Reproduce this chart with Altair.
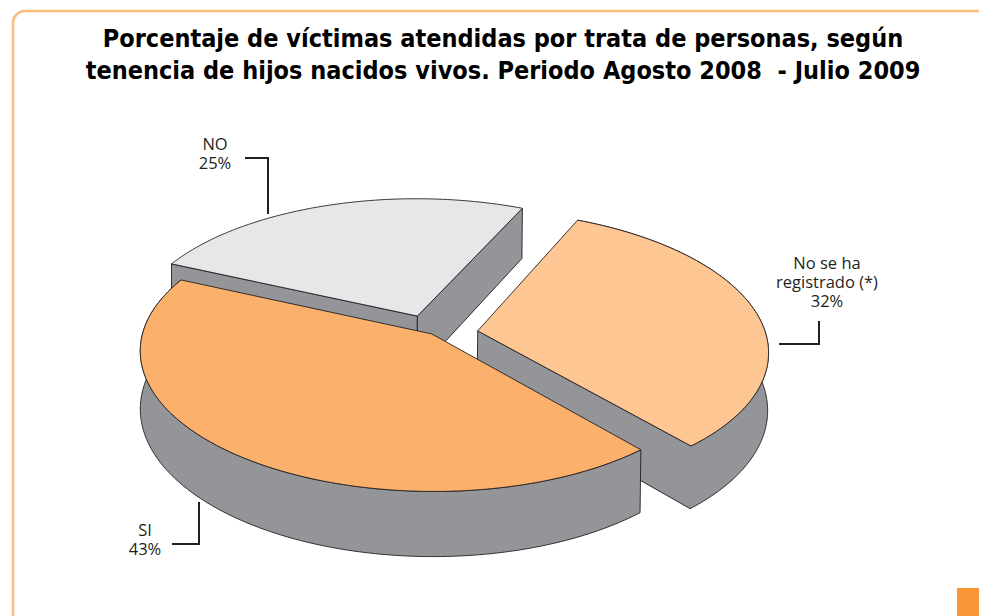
import numpy as np
import pandas as pd
import altair as alt
alt.data_transformers.disable_max_rows()
categories=["No se ha registrado (*)","SI","NO"]
shares=[.32,.43,.25]
# perspective camera of the 3D pie and the explode of each slice
cam=[169.13507, 241.14323, 431.76909, -84.80266, 39.3128, 333.93371, 0.11935, -0.05231, 0.25788, 57.50832, 0.00151]
explode=[0.16123, 0.0, 0.14145]
cum=np.cumsum([0]+shares)*2*np.pi
mid=(cum[:-1]+cum[1:])/2
def proj(X,Y,Z):
    a,b,c,d,e,f,g,h,zx,zy,zw=cam
    w=g*X+h*Y+1+zw*Z
    return np.stack([(a*X+b*Y+c+zx*Z)/w,(d*X+e*Y+f+zy*Z)/w],-1)
def pt(i,th,r,Z):
    e=explode[i]
    return proj(r*np.cos(th)+e*np.cos(mid[i]),r*np.sin(th)+e*np.sin(mid[i]),Z)
W,H=971,608
xs=alt.Scale(domain=[8,979],range=[0,W])
ys=alt.Scale(domain=[8,616],range=[0,H])
def enc(c):
    return c.encode(x=alt.X("x:Q",scale=xs,axis=None),y=alt.Y("y:Q",scale=ys,axis=None))
def poly(pts,fill):
    df=pd.DataFrame({"x":pts[:,0],"y":pts[:,1],"o":np.arange(len(pts))})
    return enc(alt.Chart(df).mark_line(fill=fill,stroke="#231f20",strokeWidth=0.9,strokeJoin="miter")).encode(order="o:Q")
def arc(i,z):
    return pt(i,np.linspace(cum[i],cum[i+1],160),1,z)
def apex(i,z):
    return pt(i,np.array([0.0]),0,z)
def top(i,fill):
    a=apex(i,0)
    return poly(np.vstack([a,arc(i,0),a]),fill)
def rim(i):
    t=arc(i,0);b=arc(i,1)
    return poly(np.vstack([t,b[::-1],t[:1]]),"#939598")
def inner(i,end):
    t=arc(i,0)[end][None];b=arc(i,1)[end][None]
    return poly(np.vstack([apex(i,0),t,b,apex(i,1),apex(i,0)]),"#939598")
def rim_and_inner(i):
    t=arc(i,0);b=arc(i,1)
    return poly(np.vstack([t,apex(i,0),apex(i,1),b[::-1],t[:1]]),"#939598")
layers=[]
frame=pd.DataFrame({"x":[13],"x2":[1300],"y":[11],"y2":[1000]})
layers.append(enc(alt.Chart(frame).mark_rect(fill="white",stroke="#fdbb7e",strokeWidth=2.6,cornerRadius=12,clip=True)).encode(x2="x2:Q",y2="y2:Q"))
sq=pd.DataFrame({"x":[957],"x2":[979],"y":[588],"y2":[616]})
layers.append(enc(alt.Chart(sq).mark_rect(fill="#f99535")).encode(x2="x2:Q",y2="y2:Q"))
layers+=[inner(2,0),inner(2,-1),top(2,"#e6e7e8"),rim_and_inner(0),top(0,"#fec692"),rim(1),top(1,"#fbb16c")]
lead=[[(245,158),(268,158),(268,214)],[(779,344),(819,344),(819,321)],[(172,544),(199,544),(199,502)]]
for l in lead:
    a=np.array(l,float)
    df=pd.DataFrame({"x":a[:,0],"y":a[:,1],"o":[0,1,2]})
    layers.append(enc(alt.Chart(df).mark_line(stroke="#231f20",strokeWidth=2,strokeJoin="miter")).encode(order="o:Q"))
title_lines=["Porcentaje de víctimas atendidas por trata de personas, según","tenencia de hijos nacidos vivos. Periodo Agosto 2008\u00a0 - Julio 2009"]
tl=pd.DataFrame({"t":title_lines,"x":[503,503],"y":[39,71]})
layers.append(enc(alt.Chart(tl).mark_text(font="DejaVu Sans Condensed, Noto Sans",fontWeight="bold",fontSize=25,color="black",align="center",baseline="middle")).encode(text="t:N"))
lab=pd.DataFrame({"t":["NO","25%","No se ha","registrado (*)","32%","SI","43%"],
 "x":[215,215,827,827,827,145,145],"y":[145,164,264,283,302,531,550]})
layers.append(enc(alt.Chart(lab).mark_text(font="Open Sans",fontSize=16.5,color="#231f20",align="center",baseline="middle")).encode(text="t:N"))
chart=alt.layer(*layers).properties(width=W,height=H,padding=0,autosize=alt.AutoSizeParams(type="none")).configure_view(stroke=None)
chart.save("out.html",embed_options={"renderer":"svg","actions":False})
